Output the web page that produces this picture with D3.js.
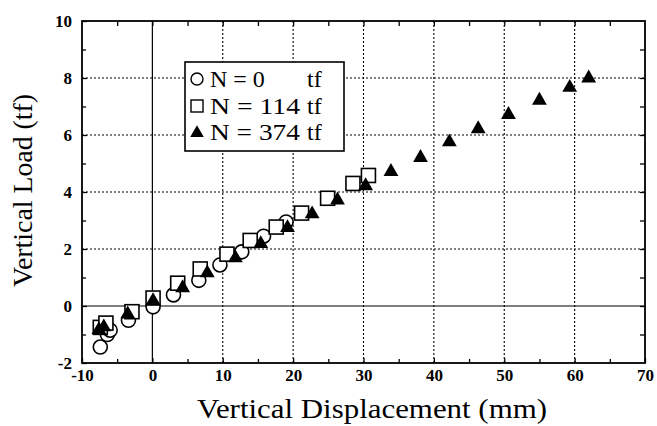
<!DOCTYPE html>
<html><head><meta charset="utf-8">
<script src="https://cdn.jsdelivr.net/npm/d3@7"></script>
<style>body{margin:0;background:#fff}svg{display:block}
text{font-family:"Liberation Serif","Times New Roman",Times,serif;}</style>
</head><body><svg id="c" width="657" height="426"></svg>
<script>
const xTicks = [-10,0,10,20,30,40,50,60,70];
const yTicks = [-2,0,2,4,6,8,10];
const legendLabels = ["N = 0", "N = 114", "N = 374"];
const legendUnits = ["tf","tf","tf"];
// series: [displacement mm, load tf]
const n0 = [[-7.4,-1.44],[-6.4,-1.0],[-6.0,-0.85],[-3.4,-0.5],[0.1,-0.03],[3.0,0.39],[6.6,0.9],[9.6,1.44],[12.7,1.9],[15.8,2.45],[19.0,2.95]];
const n114 = [[-7.4,-0.75],[-6.6,-0.6],[-2.9,-0.2],[0.1,0.28],[3.6,0.8],[6.8,1.3],[10.6,1.82],[13.9,2.3],[17.6,2.77],[21.2,3.26],[24.9,3.78],[28.5,4.3],[30.7,4.58]];
const n374 = [[-7.6,-0.8],[-6.9,-0.7],[-3.5,-0.25],[0.1,0.22],[4.3,0.67],[7.8,1.19],[11.8,1.72],[15.4,2.22],[19.2,2.78],[22.7,3.26],[26.3,3.75],[30.3,4.25],[33.9,4.75],[38.1,5.24],[42.2,5.79],[46.3,6.25],[50.6,6.75],[55.0,7.25],[59.3,7.7],[62.0,8.03]];

const svg = d3.select("#c");
const L=82,R=645,T=21,B=363;
const x = d3.scaleLinear().domain([-10,70]).range([L,R]);
const y = d3.scaleLinear().domain([-2,10]).range([B,T]);
const serif = '"Liberation Serif","Times New Roman",Times,serif';

const g = svg.append("g");
g.selectAll(".gx").data(xTicks.filter(v=>v>0&&v<70)).enter().append("line")
 .attr("x1",d=>x(d)).attr("x2",d=>x(d)).attr("y1",T).attr("y2",B)
 .attr("stroke","#000").attr("stroke-width",1.1).attr("stroke-dasharray","2,2");
g.selectAll(".gy").data(yTicks.filter(v=>v>0&&v<10)).enter().append("line")
 .attr("y1",d=>y(d)).attr("y2",d=>y(d)).attr("x1",L).attr("x2",R)
 .attr("stroke","#000").attr("stroke-width",1.1).attr("stroke-dasharray","2,2");
g.append("line").attr("x1",x(0)).attr("x2",x(0)).attr("y1",T).attr("y2",B).attr("stroke","#000").attr("stroke-width",1.2);
g.append("line").attr("y1",y(0)).attr("y2",y(0)).attr("x1",L).attr("x2",R).attr("stroke","#000").attr("stroke-width",1.2);

const tickFmt = d => String(d);
const xb = svg.append("g").attr("transform",`translate(0,${B})`).call(d3.axisBottom(x).tickValues(xTicks).tickSize(-5).tickPadding(6).tickFormat(tickFmt));
const xbm = svg.append("g").attr("transform",`translate(0,${B})`).call(d3.axisBottom(x).tickValues(d3.range(-5,70,10)).tickSize(-4).tickFormat(""));
const xt = svg.append("g").attr("transform",`translate(0,${T})`).call(d3.axisTop(x).tickValues(d3.range(-5,70,5)).tickSize(-5).tickFormat(""));
const yl = svg.append("g").attr("transform",`translate(${L},0)`).call(d3.axisLeft(y).tickValues(yTicks).tickSize(-5).tickPadding(10).tickFormat(tickFmt));
const ylm = svg.append("g").attr("transform",`translate(${L},0)`).call(d3.axisLeft(y).tickValues(d3.range(-1,10,2)).tickSize(-4).tickFormat(""));
const yr = svg.append("g").attr("transform",`translate(${R},0)`).call(d3.axisRight(y).tickValues(d3.range(-1,10,1)).tickSize(-5).tickFormat(""));
[xb,xbm,xt,yl,ylm,yr].forEach(a=>{a.attr("font-family",null);a.select(".domain").remove();a.selectAll("line").attr("stroke","#000").attr("stroke-width",1.3);});
[xb,yl].forEach(a=>a.selectAll("text").style("font-family",serif).attr("font-weight","bold").attr("font-size",17).attr("fill","#000"));
xb.selectAll("text").attr("dy","0.71em");
svg.append("rect").attr("x",L).attr("y",T).attr("width",R-L).attr("height",B-T).attr("fill","none").attr("stroke","#000").attr("stroke-width",1.8);

const tri = d3.symbol().type(d3.symbolTriangle).size(95);
svg.append("g").selectAll("circle").data(n0).enter().append("circle")
 .attr("cx",d=>x(d[0])).attr("cy",d=>y(d[1])).attr("r",7).attr("fill","#fff").attr("stroke","#000").attr("stroke-width",1.6);
svg.append("g").selectAll("rect").data(n114).enter().append("rect")
 .attr("x",d=>x(d[0])-7).attr("y",d=>y(d[1])-7).attr("width",14).attr("height",14).attr("fill","#fff").attr("stroke","#000").attr("stroke-width",1.6);
svg.append("g").selectAll("path").data(n374).enter().append("path")
 .attr("d",tri).attr("transform",d=>`translate(${x(d[0])},${y(d[1])+1})`).attr("fill","#000");

const lg = svg.append("g");
lg.append("rect").attr("x",185).attr("y",62).attr("width",159).attr("height",89).attr("fill","#fff").attr("stroke","#000").attr("stroke-width",1.6);
const rowY = [79,106,132];
lg.append("circle").attr("cx",197).attr("cy",rowY[0]).attr("r",6).attr("fill","#fff").attr("stroke","#000").attr("stroke-width",1.4);
lg.append("rect").attr("x",191).attr("y",rowY[1]-6).attr("width",12).attr("height",12).attr("fill","#fff").attr("stroke","#000").attr("stroke-width",1.4);
lg.append("path").attr("d",d3.symbol().type(d3.symbolTriangle).size(80)).attr("transform",`translate(197,${rowY[2]+1})`).attr("fill","#000");
const lens = [null,90,90];
legendLabels.forEach((t,i)=>{
  const tx = lg.append("text").attr("x",210).attr("y",rowY[i]+8).style("font-family",serif).attr("font-size",24).text(t);
  if (lens[i]) tx.attr("textLength",lens[i]).attr("lengthAdjust","spacingAndGlyphs");
  lg.append("text").attr("x",307).attr("y",rowY[i]+8).style("font-family",serif).attr("font-size",24).text(legendUnits[i]);
});

svg.append("text").attr("x",197).attr("y",418).style("font-family",serif).attr("font-size",27)
  .attr("textLength",350).attr("lengthAdjust","spacingAndGlyphs").text("Vertical Displacement (mm)");
svg.append("text").attr("transform",`translate(32,${287}) rotate(-90)`).style("font-family",serif).attr("font-size",27)
  .attr("textLength",193).attr("lengthAdjust","spacingAndGlyphs").text("Vertical Load (tf)");
</script></body></html>
